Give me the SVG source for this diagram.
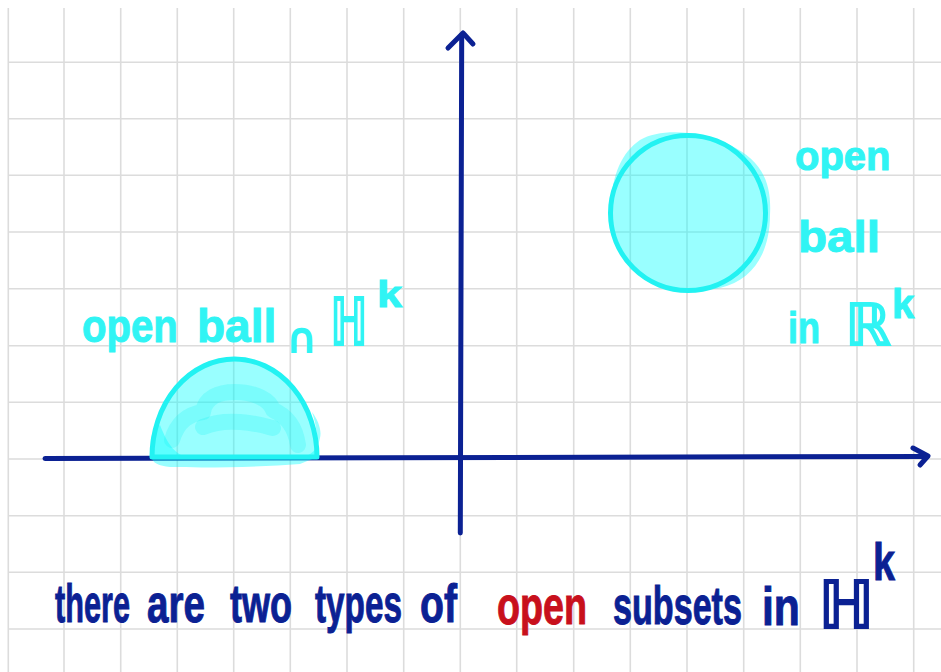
<svg xmlns="http://www.w3.org/2000/svg" width="941" height="672" viewBox="0 0 941 672">
<style>
.grid{stroke:#dcdcdc;stroke-width:1.6;fill:none}
.axis{stroke:#0b2193;stroke-width:5;fill:none;stroke-linecap:round;stroke-linejoin:round}
.hand{font-family:"Liberation Sans",Arial,sans-serif;font-weight:700;stroke-width:1}
.navy{fill:#0b2193;stroke:#0b2193}
.red{fill:#c8101c;stroke:#c8101c}
.cyan{fill:#30f4f4;stroke:#30f4f4}
.sym{font-family:"DejaVu Sans","Noto Sans",sans-serif;font-weight:400;stroke-width:2}
.fill{fill:#00ffff;fill-opacity:0.4;stroke:none}
.edge{fill:none;stroke:#22f2f2;stroke-width:5;stroke-linecap:round;stroke-linejoin:round}
.scrib{fill:none;stroke:#00f0f0;stroke-opacity:0.2;stroke-width:16;stroke-linecap:round;stroke-linejoin:round}
</style>
<rect width="941" height="672" fill="#ffffff"/>
<g id="grid" class="grid">
<path d="M8.3,8V672M64,8V672M120.7,8V672M177.3,8V672M233.7,8V672M290.3,8V672M347,8V672M403.7,8V672M460.3,8V672M516.7,8V672M573.7,8V672M630.3,8V672M687,8V672M743.7,8V672M800.3,8V672M857,8V672M913.7,8V672"/>
<path d="M8,62.3H941M8,118.7H941M8,175.3H941M8,232H941M8,288.7H941M8,345.7H941M8,402.3H941M8,459H941M8,515.7H941M8,572.3H941M8,629H941"/>
</g>
<g id="connectors">
<path class="axis" d="M460.3,533 L461.7,35"/>
<path class="axis" d="M448,48 L463,33 L473,44"/>
<path class="axis" d="M45,458.5 L927,456.5"/>
<path class="axis" d="M913,448 L928,456 L920,465"/>
</g>
<g id="half-ball">
<path class="fill" d="M152,457 A82.5 98 0 0 1 317,457 Z"/>
<path class="fill" d="M152,455 C148,440 152,430 160,425 C168,445 175,455 190,458 L300,458 C310,456 318,450 320,438 C322,430 318,420 312,412 C318,430 318,445 317,457 L300,464 C260,467 210,468 170,467 C158,466 150,462 152,455 Z"/>
<path class="scrib" d="M172,440 C178,420 190,414 203,412 C205,398 218,392 235,392 C255,392 270,400 273,410 C285,415 295,425 298,445"/>
<path class="scrib" d="M203,427 C215,422 228,421 240,422 C255,423 265,426 273,428"/>
<path class="edge" d="M152,457 A82.5 98 0 0 1 317,457 Z"/>
</g>
<g id="full-ball">
<path class="fill" d="M640,140 C660,128 700,130 730,145 C760,160 772,180 770,215 C770,250 755,280 720,288 C690,295 655,290 640,275 C620,255 610,230 611,205 C612,175 622,152 640,140 Z"/>
<circle class="edge" cx="688" cy="213" r="77.5"/>
</g>
<g id="label-half-ball" class="hand cyan">
<text transform="translate(82,342) scale(0.873,1)" font-size="46">open</text>
<text x="197" y="342" font-size="46">ball</text>
<text class="sym" x="287" y="352" font-size="40">∩</text>
<text class="sym" transform="translate(330,345) scale(0.67,1)" font-size="66">ℍ</text>
<text transform="translate(377,307) scale(1.25,1)" font-size="36">k</text>
</g>
<g id="label-full-ball" class="hand cyan">
<text x="795" y="170" font-size="40">open</text>
<text transform="translate(798,252) scale(1.08,1)" font-size="44">ball</text>
<text transform="translate(788,343) scale(0.82,1)" font-size="44">in</text>
<text class="sym" x="845" y="345" font-size="58">ℝ</text>
<text x="892" y="318" font-size="40">k</text>
</g>
<g id="caption" class="hand navy">
<text transform="translate(55,622) scale(0.568,1)" font-size="54">there</text>
<text transform="translate(147,622) scale(0.715,1)" font-size="54">are</text>
<text transform="translate(230,622) scale(0.667,1)" font-size="54">two</text>
<text transform="translate(315,622) scale(0.617,1)" font-size="54">types</text>
<text transform="translate(420,622) scale(0.726,1)" font-size="54">of</text>
<text class="red" transform="translate(497,624) scale(0.698,1)" font-size="54">open</text>
<text transform="translate(613,624) scale(0.632,1)" font-size="54">subsets</text>
<text transform="translate(762,625) scale(0.79,1)" font-size="54">in</text>
<text class="sym" x="818" y="628" font-size="66">ℍ</text>
<text transform="translate(873,580) scale(0.76,1)" font-size="52">k</text>
</g>
</svg>
